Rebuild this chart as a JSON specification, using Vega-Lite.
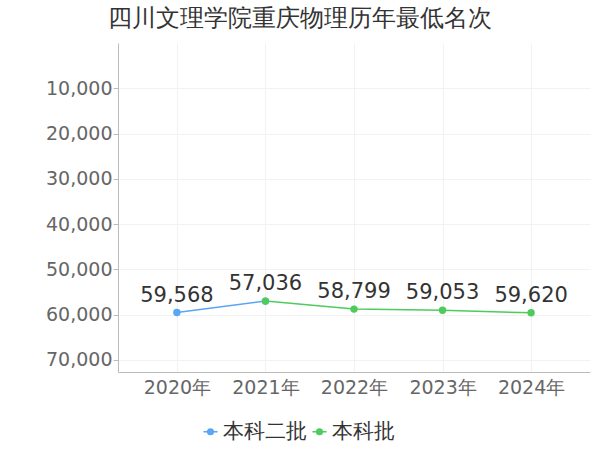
{
  "$schema": "https://vega.github.io/schema/vega-lite/v6.json",
  "description": "四川文理学院重庆物理历年最低名次",
  "autosize": "none",
  "width": 472,
  "height": 329,
  "padding": {"left": 118, "top": 43, "right": 10, "bottom": 78},
  "background": "#ffffff",
  "title": {
    "text": "四川文理学院重庆物理历年最低名次",
    "anchor": "start",
    "frame": "group",
    "dx": -10,
    "offset": 12,
    "fontSize": 24,
    "fontWeight": "normal",
    "color": "#333333",
    "font": "DejaVu Sans"
  },
  "data": {
    "values": [
      {"year": "2020年", "batch": "本科二批", "rank": 59568},
      {"year": "2021年", "batch": "本科二批", "rank": 57036},
      {"year": "2021年", "batch": "本科批", "rank": 57036},
      {"year": "2022年", "batch": "本科批", "rank": 58799},
      {"year": "2023年", "batch": "本科批", "rank": 59053},
      {"year": "2024年", "batch": "本科批", "rank": 59620}
    ]
  },
  "encoding": {
    "x": {
      "field": "year",
      "type": "ordinal",
      "scale": {"type": "point", "padding": 0.665},
      "axis": {
        "title": null,
        "labelAngle": 0,
        "labelFontSize": 19,
        "labelColor": "#666666",
        "labelFont": "DejaVu Sans",
        "labelPadding": 6,
        "ticks": false,
        "domainColor": "#bbbbbb",
        "grid": true,
        "gridColor": "#f2f2f2"
      }
    },
    "y": {
      "field": "rank",
      "type": "quantitative",
      "scale": {"domain": [0, 72700], "reverse": true, "nice": false, "zero": false},
      "axis": {
        "title": null,
        "values": [10000, 20000, 30000, 40000, 50000, 60000, 70000],
        "format": ",d",
        "labelFontSize": 19,
        "labelColor": "#666666",
        "labelFont": "DejaVu Sans",
        "labelPadding": 1,
        "tickColor": "#bbbbbb",
        "tickSize": 5,
        "domainColor": "#bbbbbb",
        "gridColor": "#f2f2f2"
      }
    }
  },
  "layer": [
    {
      "mark": {"type": "line", "strokeWidth": 1.5},
      "encoding": {
        "color": {
          "field": "batch",
          "type": "nominal",
          "sort": ["本科二批", "本科批"],
          "scale": {"domain": ["本科二批", "本科批"], "range": ["#58a6f5", "#4ecb5d"]},
          "legend": {
            "title": null,
            "orient": "none",
            "direction": "horizontal",
            "legendX": 82,
            "legendY": 378,
            "labelFontSize": 21,
            "labelColor": "#333333",
            "labelFont": "DejaVu Sans",
            "symbolType": "M-1,0H1M-0.4,0A0.4,0.4 0 1,0 0.4,0A0.4,0.4 0 1,0 -0.4,0Z",
            "symbolSize": 200,
            "symbolStrokeWidth": 1.5,
            "columnPadding": 2,
            "labelOffset": 2
          }
        }
      }
    },
    {
      "mark": {"type": "point", "filled": true, "size": 55, "opacity": 1},
      "encoding": {
        "color": {"field": "batch", "type": "nominal", "legend": null}
      }
    },
    {
      "transform": [{"filter": "datum.batch == '本科批' || datum.year == '2020年'"}],
      "mark": {"type": "text", "dy": -17, "fontSize": 21, "color": "#333333", "font": "DejaVu Sans"},
      "encoding": {
        "text": {"field": "rank", "type": "quantitative", "format": ",d"}
      }
    }
  ],
  "config": {
    "view": {"stroke": null}
  }
}
